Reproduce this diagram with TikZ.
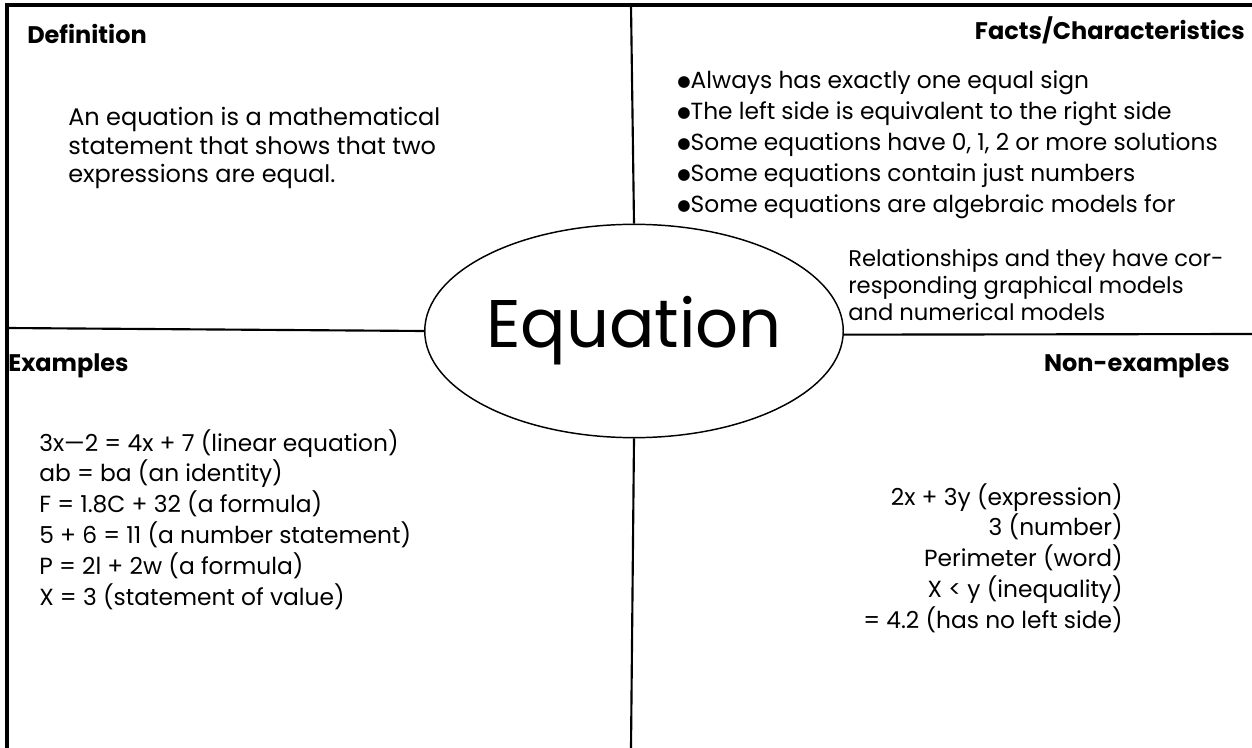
\documentclass[tikz,border=0pt]{standalone}
\usepackage{fontspec}
\setmainfont{Poppins}
\newfontfamily\symfont{DejaVu Sans}
\newcommand{\bul}{\raisebox{1.5pt}{\symfont\fontsize{11.5}{12}\selectfont ●}}
\usetikzlibrary{shapes.geometric}

\tikzset{
  frame/.style={line width=2.5pt},
  rule/.style={line width=1.6pt},
  head/.style={font=\bfseries\fontsize{18}{22}\selectfont, inner sep=0pt},
  body/.style={inner sep=0pt, align=left},
}

\begin{document}
\begin{tikzpicture}[x=0.75pt,y=-0.75pt]
\useasboundingbox (0,0) rectangle (1252,748);

% centre ellipse
\node[draw, ellipse, line width=1.1pt, minimum width=313.5pt, minimum height=160pt, inner sep=0pt,
      font=\fontsize{50.5}{58}\selectfont] (eq) at (634,331) {Equation};

% frame and quarters
\coordinate (tl) at (7,5);
\coordinate (tr) at (1252,5);
\coordinate (bl) at (7,748);
\coordinate (tm) at (631,5);
\coordinate (bm) at (631,748);
\coordinate (lm) at (7,328);
\coordinate (rm) at (1252,334);
\draw[frame] (tr) -- (tl) -- (bl);
\draw[rule] (tm) -- (eq.north);
\draw[rule] (eq.south) -- (bm);
\draw[rule] (lm) -- (eq.west);
\draw[rule] (eq.-1) -- (rm);

% headings
\node[head, anchor=base west] (hdef) at (27,44) {Definition};
\node[head, anchor=base east] (hfact) at (1245,40) {Facts/Characteristics};
\node[head, anchor=base west] (hex) at (8,372) {Examples};
\node[head, anchor=base east] (hnon) at (1230,372) {Non-examples};

% definition
\node[body, anchor=north west, font=\fontsize{18}{21.4}\selectfont] (def) at (68,107)
  {An equation is a mathematical\\statement that shows that two\\expressions are equal.};

% facts
\node[body, anchor=north west, font=\fontsize{17.5}{23.3}\selectfont] (facts) at (677,70)
  {\bul Always has exactly one equal sign\\
   \bul The left side is equivalent to the right side\\
   \bul Some equations have 0, 1, 2 or more solutions\\
   \bul Some equations contain just numbers\\
   \bul Some equations are algebraic models for};
\node[body, anchor=north west, font=\fontsize{17}{20.2}\selectfont] (rel) at (848,249)
  {Relationships and they have cor-\\responding graphical models\\and numerical models};

% examples
\node[body, anchor=north west, font=\fontsize{17.5}{23.2}\selectfont] (ex) at (39,429)
  {3x—2 = 4x + 7 (linear equation)\\
   ab = ba (an identity)\\
   F = 1.8C + 32 (a formula)\\
   5 + 6 = 11 (a number statement)\\
   P = 2l + 2w (a formula)\\
   X = 3 (statement of value)};

% non-examples
\node[body, anchor=north east, align=right, font=\fontsize{17.5}{23.2}\selectfont] (non) at (1123,483)
  {2x + 3y (expression)\\
   3 (number)\\
   Perimeter (word)\\
   X < y (inequality)\\
   = 4.2 (has no left side)};
\end{tikzpicture}
\end{document}
